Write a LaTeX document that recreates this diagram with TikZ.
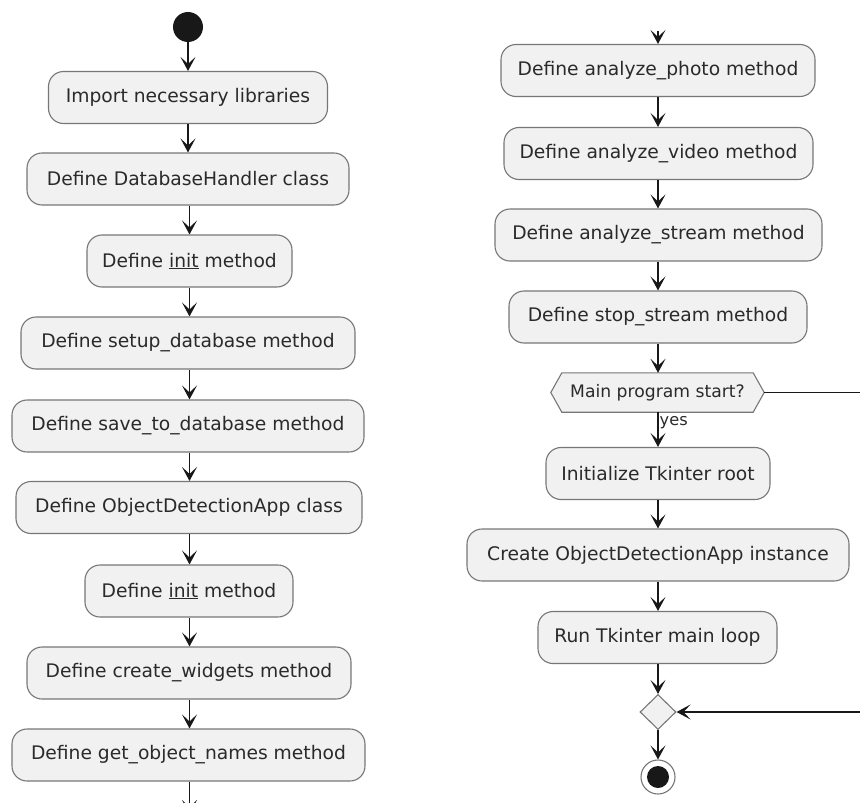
\documentclass[tikz,border=0pt]{standalone}
\usepackage{fontspec}
\setmainfont{DejaVu Sans}
\usetikzlibrary{arrows.meta,shapes.geometric}

\definecolor{boxfill}{HTML}{F1F1F1}
\definecolor{boxline}{HTML}{777777}
\definecolor{ink}{HTML}{181818}
\definecolor{label}{HTML}{2A2A2A}

\tikzset{
  act/.style={draw=boxline, line width=1.1pt, fill=boxfill, rounded corners=15pt,
    minimum height=52pt, inner sep=0pt, text=label,
    font=\fontsize{18.7}{20}\selectfont},
  flow/.style={draw=ink, line width=1.4pt,
    -{Stealth[length=14pt, width=15pt, inset=7pt]}},
  plain/.style={draw=ink, line width=1.4pt},
  startdot/.style={circle, fill=ink, minimum size=30pt, inner sep=0pt},
  mergebox/.style={diamond, draw=boxline, line width=1.1pt, fill=boxfill,
    minimum width=36pt, minimum height=35pt, inner sep=0pt},
}

\begin{document}
\begin{tikzpicture}[x=1pt, y=-1pt]
\useasboundingbox (0,0) rectangle (860,803);
\clip (0,0) rectangle (860,803);
\fill[white] (0,0) rectangle (860,803);

% ---------- left column ----------
\node[startdot] (start) at (188,27) {};
\node[act, minimum width=279pt] (n1) at (188,97.5) {Import necessary libraries};
\node[act, minimum width=322pt] (n2) at (188,179) {Define DatabaseHandler class};
\node[act, minimum width=205pt] (n3) at (189.5,261) {Define \underline{init} method};
\node[act, minimum width=334pt] (n4) at (188,343) {Define setup\_database method};
\node[act, minimum width=352pt] (n5) at (188,426) {Define save\_to\_database method};
\node[act, minimum width=346pt] (n6) at (189,507.5) {Define ObjectDetectionApp class};
\node[act, minimum width=208pt] (n7) at (189,591) {Define \underline{init} method};
\node[act, minimum width=324pt] (n8) at (189,673) {Define create\_widgets method};
\node[act, minimum width=353pt] (n9) at (188.5,755) {Define get\_object\_names method};
\coordinate (leftout) at (188.5,814);

\draw[flow] (start) -- (n1.north);
\draw[flow] (n1) -- (n2.north);
\draw[flow] (n2.south -| n3) -- (n3.north);
\draw[flow] (n3) -- (n4.north -| n3);
\draw[flow] (n4.south -| n3) -- (n5.north -| n3);
\draw[flow] (n5.south -| n3) -- (n6.north -| n3);
\draw[flow] (n6.south -| n3) -- (n7.north -| n3);
\draw[flow] (n7.south -| n3) -- (n8.north -| n3);
\draw[flow] (n8.south -| n3) -- (n9.north -| n3);
\draw[flow] (n9.south -| n3) -- (leftout -| n3);

% ---------- right column ----------
\coordinate (rightin) at (658,31);
\node[act, minimum width=314pt] (r1) at (658,70.5) {Define analyze\_photo method};
\node[act, minimum width=309pt] (r2) at (658.5,153.5) {Define analyze\_video method};
\node[act, minimum width=327pt] (r3) at (658.5,235) {Define analyze\_stream method};
\node[act, minimum width=298pt] (r4) at (658,317) {Define stop\_stream method};

% decision hexagon
\node[minimum width=213pt, minimum height=39pt, inner sep=0pt] (dec) at (657.5,392.5) {};
\draw[draw=boxline, line width=1.1pt, fill=boxfill]
  (dec.west) -- ([xshift=11pt]dec.north west) -- ([xshift=-11pt]dec.north east)
  -- (dec.east) -- ([xshift=-11pt]dec.south east) -- ([xshift=11pt]dec.south west) -- cycle;
\node[text=label, font=\fontsize{17.2}{19}\selectfont] (dectext) at (dec) {Main program start?};

\node[act, minimum width=224pt] (r5) at (658,473.5) {Initialize Tkinter root};
\node[act, minimum width=382pt] (r6) at (658,555) {Create ObjectDetectionApp instance};
\node[act, minimum width=239pt] (r7) at (657.5,637.5) {Run Tkinter main loop};
\node[mergebox] (merge) at (658,712) {};
\node[circle, draw=boxline, line width=1.1pt, fill=white, minimum size=34pt, inner sep=0pt] (stop) at (658,777) {};
\fill[ink] (stop) circle (11pt);

\coordinate (noout) at (870,392.5);
\coordinate (noin) at (870,712);

\draw[flow] (rightin) -- (r1.north -| rightin);
\draw[flow] (r1.south -| rightin) -- (r2.north -| rightin);
\draw[flow] (r2.south -| rightin) -- (r3.north -| rightin);
\draw[flow] (r3.south -| rightin) -- (r4.north -| rightin);
\draw[flow] (r4.south -| rightin) -- (dec.north -| rightin);
\draw[flow] (dec.south -| rightin) -- node[pos=0.3, anchor=west, inner sep=1pt, text=label,
   font=\fontsize{16.2}{18}\selectfont] {yes} (r5.north -| rightin);
\draw[flow] (r5.south -| rightin) -- (r6.north -| rightin);
\draw[flow] (r6.south -| rightin) -- (r7.north -| rightin);
\draw[flow] (r7.south -| rightin) -- (merge.north);
\draw[flow] (merge.south) -- (stop.north);
\draw[plain] (dec.east) -- (noout);
\draw[flow] (noin) -- (merge.east);
\end{tikzpicture}
\end{document}
